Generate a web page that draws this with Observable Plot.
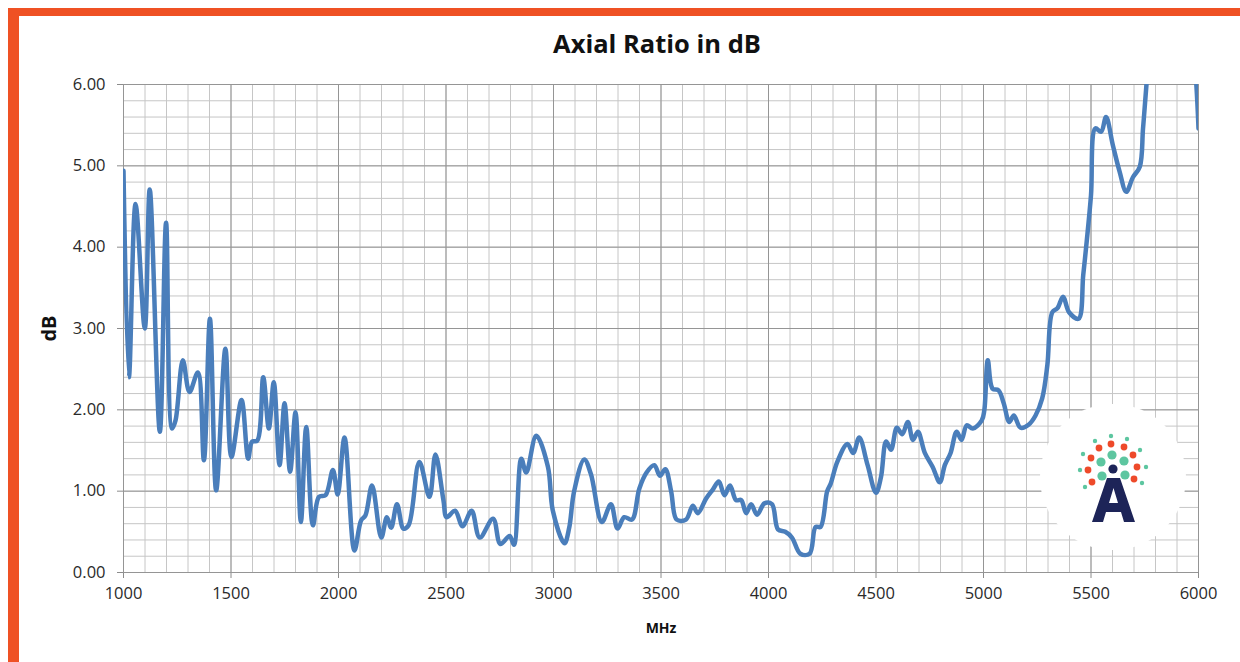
<!DOCTYPE html>
<html>
<head>
<meta charset="utf-8">
<script src="https://cdn.jsdelivr.net/npm/d3@7"></script>
<script src="https://cdn.jsdelivr.net/npm/@observablehq/plot@0.6"></script>
<style>
  html, body { margin: 0; padding: 0; background: #fff; width: 1240px; height: 662px; overflow: hidden; }
  #frame-top { position: absolute; left: 8px; top: 8px; width: 1232px; height: 8px; background: #EF5124; }
  #frame-left { position: absolute; left: 8px; top: 8px; width: 11px; height: 654px; background: #EF5124; }
  #title { position: absolute; left: 0; top: 31px; width: 1314px; text-align: center;
           font-family: "Open Sans", sans-serif; font-weight: 700; font-size: 25.5px; line-height: 25px; color: #111; }
  #chart { position: absolute; left: 0; top: 0; }
  #chart g[aria-label="x-axis tick"] path, #chart g[aria-label="y-axis tick"] path { stroke: #8c8c8c; }
  #chart g[aria-label="x-axis label"] text { font-weight: 700; font-size: 14px; fill: #111; }
  #chart g[aria-label="y-axis label"] text { font-weight: 700; font-size: 20px; fill: #111; }
</style>
</head>
<body>
<div id="frame-top"></div>
<div id="frame-left"></div>
<div id="chart"></div>
<div id="title">Axial Ratio in dB</div>
<script>
// ---- data ----
const freqMHz = [
  1000, 1025, 1056, 1099, 1122, 1169, 1198, 1226, 1242, 1276, 1307, 1346, 1374, 1402, 1431, 1474,
  1502, 1549, 1580, 1598, 1622, 1650, 1676, 1699, 1726, 1749, 1775, 1800, 1825, 1850, 1881, 1909,
  1940, 1974, 1996, 2028, 2074, 2105, 2125, 2156, 2199, 2225, 2245, 2272, 2302, 2326, 2376, 2423,
  2451, 2488, 2503, 2542, 2577, 2619, 2657, 2719, 2753, 2796, 2816, 2850, 2873, 2920, 2974, 2997,
  3051, 3073, 3096, 3143, 3174, 3225, 3267, 3298, 3329, 3365, 3399, 3433, 3469, 3495, 3520, 3547,
  3573, 3616, 3648, 3671, 3710, 3741, 3769, 3795, 3821, 3849, 3873, 3896, 3919, 3947, 3981, 4016,
  4044, 4078, 4109, 4148, 4191, 4219, 4242, 4273, 4289, 4320, 4367, 4394, 4422, 4461, 4500, 4523,
  4547, 4570, 4597, 4622, 4648, 4672, 4695, 4727, 4763, 4797, 4820, 4847, 4875, 4898, 4922, 4950,
  4992, 5004, 5020, 5042, 5070, 5094, 5120, 5141, 5172, 5211, 5242, 5273, 5297, 5320, 5344, 5370,
  5398, 5442, 5464, 5480, 5500, 5520, 5547, 5570, 5602, 5633, 5664, 5695, 5727, 5742, 5758, 5800,
  5880, 5950, 5990, 6000
];
const axialRatioDb = [
  4.94, 2.40, 4.53, 3.00, 4.71, 1.73, 4.30, 1.77, 1.87, 2.61, 2.22, 2.46, 1.38, 3.12, 1.01, 2.75,
  1.42, 2.12, 1.40, 1.61, 1.62, 2.40, 1.77, 2.34, 1.32, 2.08, 1.24, 1.97, 0.62, 1.79, 0.58, 0.93,
  0.95, 1.26, 0.96, 1.66, 0.27, 0.64, 0.70, 1.07, 0.43, 0.68, 0.55, 0.84, 0.54, 0.58, 1.36, 0.93,
  1.45, 0.89, 0.68, 0.76, 0.57, 0.76, 0.43, 0.66, 0.35, 0.45, 0.34, 1.40, 1.23, 1.68, 1.30, 0.76,
  0.36, 0.55, 1.00, 1.39, 1.21, 0.62, 0.84, 0.54, 0.68, 0.65, 1.03, 1.23, 1.32, 1.19, 1.27, 1.00,
  0.65, 0.65, 0.82, 0.73, 0.91, 1.02, 1.12, 0.95, 1.07, 0.89, 0.89, 0.73, 0.84, 0.71, 0.85, 0.84,
  0.53, 0.50, 0.43, 0.23, 0.23, 0.56, 0.56, 1.00, 1.09, 1.36, 1.58, 1.47, 1.66, 1.32, 0.98, 1.17,
  1.61, 1.51, 1.78, 1.70, 1.85, 1.63, 1.73, 1.47, 1.30, 1.11, 1.32, 1.47, 1.73, 1.63, 1.81, 1.77,
  1.87, 2.00, 2.61, 2.26, 2.24, 2.08, 1.85, 1.93, 1.78, 1.82, 1.93, 2.14, 2.55, 3.20, 3.25, 3.39,
  3.20, 3.12, 3.66, 4.07, 4.64, 5.46, 5.42, 5.60, 5.25, 4.93, 4.68, 4.86, 4.99, 5.46, 6.00, 7.60,
  8.60, 7.40, 6.00, 5.46
];
const xTickValues = [1000, 1500, 2000, 2500, 3000, 3500, 4000, 4500, 5000, 5500, 6000];
const yTickValues = [0, 1, 2, 3, 4, 5, 6];
const xMinorStep = 100;
const yMinorStep = 0.2;

// ---- build ----
const rows = freqMHz.map((f, i) => ({ f, v: axialRatioDb[i] }));
const xMinor = d3.range(xTickValues[0], xTickValues[xTickValues.length - 1] + 1, xMinorStep);
const yMinor = d3.range(0, 30 + 1).map(i => i * yMinorStep);

const chart = Plot.plot({
  width: 1240,
  height: 662,
  marginLeft: 123,
  marginRight: 42,
  marginTop: 84,
  marginBottom: 90,
  style: { fontFamily: "'Open Sans', sans-serif", fontSize: "16.5px", color: "#2a2a2a", background: "transparent" },
  x: {
    domain: [1000, 6000], ticks: xTickValues, tickFormat: d => String(d),
    tickSize: 6, tickPadding: 9, label: "MHz", labelAnchor: "center", labelOffset: 60, labelArrow: "none"
  },
  y: {
    domain: [0, 6], ticks: yTickValues, tickFormat: d3.format(".2f"),
    tickSize: 6, tickPadding: 12, label: "dB", labelAnchor: "center", labelOffset: 82, labelArrow: "none"
  },
  marks: [
    Plot.ruleX(xMinor, { stroke: "#c6c6c6", strokeWidth: 1 }),
    Plot.ruleY(yMinor, { stroke: "#c6c6c6", strokeWidth: 1 }),
    Plot.ruleX(xTickValues, { stroke: "#959595", strokeWidth: 1 }),
    Plot.ruleY(yTickValues, { stroke: "#959595", strokeWidth: 1 }),
    Plot.line(rows, { x: "f", y: "v", curve: "catmull-rom", stroke: "#4A7EBB", strokeWidth: 4.5, clip: true })
  ]
});
document.getElementById("chart").appendChild(chart);

// ---- watermark logo (decoration) ----
const svg = d3.select(chart);
const logo = svg.append("g").attr("aria-label", "logo");
logo.append("circle").attr("cx", 1113).attr("cy", 477).attr("r", 73).attr("fill", "#fff");
const teal = "#5DC6A0", red = "#EE4A2A", navy = "#1D2458";
const dots = [
  [1111, 436, 2.2, teal], [1095, 441, 2.2, teal], [1127, 439, 2.2, teal],
  [1111, 444, 3.4, red], [1099, 448, 3.4, red], [1124, 447, 3.4, red],
  [1112, 455, 4.6, teal], [1083, 454, 2.2, teal], [1140, 450, 2.2, teal],
  [1091, 458, 3.4, red], [1133, 455, 3.4, red],
  [1101, 462, 4.6, teal], [1124, 461, 4.6, teal],
  [1113, 469, 4.6, navy],
  [1080, 470, 2.2, teal], [1146, 467, 2.2, teal],
  [1088, 470, 3.4, red], [1137, 467, 3.4, red],
  [1102, 476, 4.6, teal], [1125, 475, 4.6, teal],
  [1092, 482, 3.4, red], [1134, 479, 3.4, red],
  [1085, 487, 2.2, teal], [1142, 483, 2.2, teal]
];
logo.selectAll("circle.dot").data(dots).join("circle").attr("class", "dot")
  .attr("cx", d => d[0]).attr("cy", d => d[1]).attr("r", d => d[2]).attr("fill", d => d[3]);
logo.append("path")
  .attr("d", "M1107,478 L1120,478 L1135,522 L1124,522 L1121,512 L1106,512 L1103,522 L1092,522 Z M1113.5,488 L1109,503 L1118,503 Z")
  .attr("fill", navy).attr("fill-rule", "evenodd");
</script>
</body>
</html>
